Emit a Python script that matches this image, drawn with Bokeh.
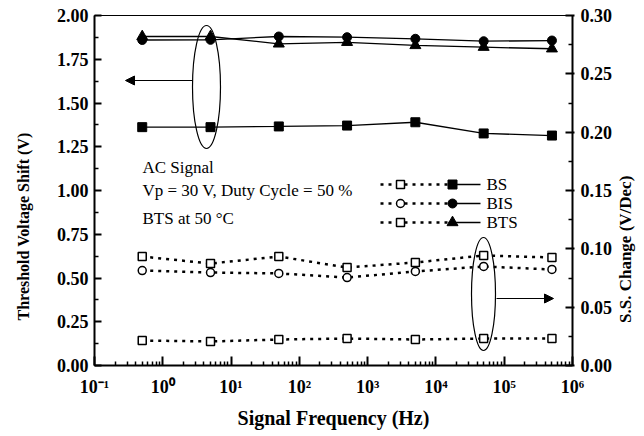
import math
from bokeh.plotting import figure
from bokeh.models import (Range1d, LinearAxis, FixedTicker, PrintfTickFormatter,
                          CustomJSTickFormatter, Arrow, NormalHead)
from bokeh.core.properties import value
from bokeh.embed import file_html
from bokeh.resources import INLINE

# ---------------- data ----------------
freq = [0.5, 5, 50, 500, 5000, 50000, 500000]

# threshold voltage shift (V) - left axis
dvth_bs = [1.362, 1.362, 1.366, 1.371, 1.390, 1.326, 1.314]
dvth_bis = [1.860, 1.861, 1.880, 1.876, 1.867, 1.853, 1.857]
dvth_bts = [1.880, 1.880, 1.838, 1.847, 1.829, 1.819, 1.810]

# S.S. change (V/Dec) - right axis
dss_bs = [0.0214, 0.0206, 0.0223, 0.0231, 0.0223, 0.0231, 0.0231]
dss_bis = [0.0814, 0.0797, 0.0789, 0.0754, 0.0806, 0.0849, 0.0823]
dss_bts = [0.0934, 0.0874, 0.0934, 0.0840, 0.0883, 0.0943, 0.0926]

series_names = ["BS", "BIS", "BTS"]
x_ticks = [10.0 ** k for k in range(-1, 7)]
y_left_ticks = [0, 0.25, 0.5, 0.75, 1.0, 1.25, 1.5, 1.75, 2.0]
y_right_ticks = [0, 0.05, 0.10, 0.15, 0.20, 0.25, 0.30]

x_title = "Signal Frequency (Hz)"
y_left_title = "Threshold Voltage Shift (V)"
y_right_title = "S.S. Change (V/Dec)"
annotation_lines = ["AC Signal", "Vp = 30 V, Duty Cycle = 50 %", "BTS at 50 \u00b0C"]

# ---------------- layout helpers (reference pixel -> axis coords) ----------------
W, H = 644, 436
FL, FR, FT, FB = 94, 572, 15, 365


def fx(px):
    return 10 ** (-1 + 7 * (px - FL) / (FR - FL))


def fy(py):
    return 2.0 * (FB - py) / (FB - FT)


SERIF = "Liberation Serif"
NBSP = "\u00a0"

p = figure(x_axis_type="log", x_range=Range1d(0.1, 1e6), y_range=Range1d(0, 2),
           frame_width=FR - FL, frame_height=FB - FT,
           min_border_left=FL, min_border_right=W - FR, min_border_top=FT,
           min_border_bottom=H - FB,
           output_backend="svg", toolbar_location=None)
p.background_fill_color = "white"
p.border_fill_color = "white"
p.outline_line_color = "black"
p.outline_line_width = 1
p.xgrid.grid_line_color = None
p.ygrid.grid_line_color = None

p.extra_y_ranges = {"ss": Range1d(0, 0.30)}


def style_axis(ax):
    ax.axis_line_width = 2
    ax.axis_line_color = "black"
    ax.major_tick_line_width = 2
    ax.minor_tick_line_width = 1.5
    ax.major_tick_in = 7
    ax.major_tick_out = 0
    ax.minor_tick_in = 4
    ax.minor_tick_out = 0
    ax.major_label_text_font = SERIF
    ax.major_label_text_font_style = "bold"
    ax.major_label_text_font_size = "18px"
    ax.major_label_text_color = "black"
    ax.axis_label_text_font = SERIF
    ax.axis_label_text_font_style = "bold"
    ax.axis_label_text_font_size = "16px"
    ax.axis_label_text_color = "black"


xa = p.xaxis[0]
style_axis(xa)
xa.ticker = FixedTicker(ticks=x_ticks,
                        minor_ticks=[m * 10.0 ** k for k in range(-1, 6) for m in range(2, 10)])
xa.formatter = CustomJSTickFormatter(code="""
const sup = {"-":"\u207b","0":"\u2070","1":"\u00b9","2":"\u00b2","3":"\u00b3","4":"\u2074",
             "5":"\u2075","6":"\u2076","7":"\u2077","8":"\u2078","9":"\u2079"};
const e = Math.round(Math.log10(tick));
return "10" + String(e).split("").map(c => sup[c]).join("");
""")
xa.axis_label = x_title
xa.axis_label_text_font_size = "20px"
xa.major_tick_in = 9
xa.major_label_standoff = 11
xa.axis_label_standoff = 7

ya = p.yaxis[0]
style_axis(ya)
ya.ticker = FixedTicker(ticks=y_left_ticks,
                        minor_ticks=[t + 0.125 for t in y_left_ticks[:-1]])
ya.formatter = PrintfTickFormatter(format="%.2f")
ya.axis_label = y_left_title + NBSP * 18
ya.major_label_standoff = 6
ya.axis_label_standoff = 22

# right axis with ticks, tick labels and its title (read bottom-to-top)
ra = LinearAxis(y_range_name="ss")
style_axis(ra)
ra.ticker = FixedTicker(ticks=y_right_ticks,
                        minor_ticks=[t + 0.025 for t in y_right_ticks[:-1]])
ra.formatter = PrintfTickFormatter(format="%.2f")
ra.major_tick_out = 2
ra.major_label_standoff = 6
ra.axis_label_standoff = 10
ra.axis_label_text_font_size = "17px"
if "axis_label_align" in LinearAxis.properties():
    ra.axis_label_orientation = math.pi / 2
    ra.axis_label_text_baseline = "middle"
    ra.axis_label_align = "start"
    ra.axis_label = NBSP * 10 + y_right_title
else:
    ra.axis_label = y_right_title
p.add_layout(ra, "right")

# ---------------- series: S.S. change (dotted, open markers, right axis) ----------------
DOT = dict(line_color="black", line_width=2.5, line_dash="3 5", line_cap="butt")
OPEN = dict(line_color="black", line_width=1.5, fill_color="white")

ss_data = [(dss_bs, "square"), (dss_bis, "circle"), (dss_bts, "square")]
for ys, mk in ss_data:
    p.line(freq, ys, y_range_name="ss", **DOT)
    p.scatter(freq, ys, y_range_name="ss", marker=mk, size=8, **OPEN)

# ---------------- series: threshold voltage shift (solid, filled, left axis) ----------------
SOLID = dict(line_color="black", line_width=1.3)
vth_data = [(dvth_bs, "square", 9), (dvth_bis, "circle", 9), (dvth_bts, "triangle", 11)]
for ys, mk, sz in vth_data:
    p.line(freq, ys, **SOLID)
    p.scatter(freq, ys, marker=mk, size=sz, fill_color="black", line_color="black")

# ---------------- legend (drawn manually) ----------------
leg_rows = [184, 203, 222]
open_mk = ["square", "circle", "square"]
fill_mk = [("square", 9), ("circle", 9), ("triangle", 11)]
for i, name in enumerate(series_names):
    yy = fy(leg_rows[i])
    p.line([fx(380), fx(448)], [yy, yy], **DOT)
    p.scatter([fx(400)], [yy], marker=open_mk[i], size=8, **OPEN)
    p.line([fx(448), fx(480)], [yy, yy], **SOLID)
    p.scatter([fx(452)], [yy], marker=fill_mk[i][0], size=fill_mk[i][1],
              fill_color="black", line_color="black")
p.text(x=[fx(486)] * 3, y=[fy(r) for r in leg_rows], text=series_names,
       text_font=value(SERIF), text_font_size="17px", text_baseline="middle",
       text_align="left", text_color="black")

# ---------------- annotation text ----------------
p.text(x=[fx(142)] * 3, y=[fy(167), fy(190), fy(218)], text=annotation_lines,
       text_font=value(SERIF), text_font_size="17px", text_baseline="middle",
       text_align="left", text_color="black")

# ---------------- ellipses & arrows ----------------
p.ellipse(x=[fx(206), fx(483)], y=[fy(86.5), fy(293.5)], width=[28, 24], height=[123, 113],
          width_units="screen", height_units="screen",
          fill_color=None, line_color="black", line_width=1.2)

p.add_layout(Arrow(end=NormalHead(size=9, fill_color="black", line_color="black"),
                   x_start=fx(192), y_start=fy(80), x_end=fx(125), y_end=fy(80),
                   line_width=1.2, line_color="black"))
p.add_layout(Arrow(end=NormalHead(size=9, fill_color="black", line_color="black"),
                   x_start=fx(496), y_start=fy(298), x_end=fx(553), y_end=fy(298),
                   line_width=1.2, line_color="black"))

open("out.html", "w").write(file_html(p, INLINE))
